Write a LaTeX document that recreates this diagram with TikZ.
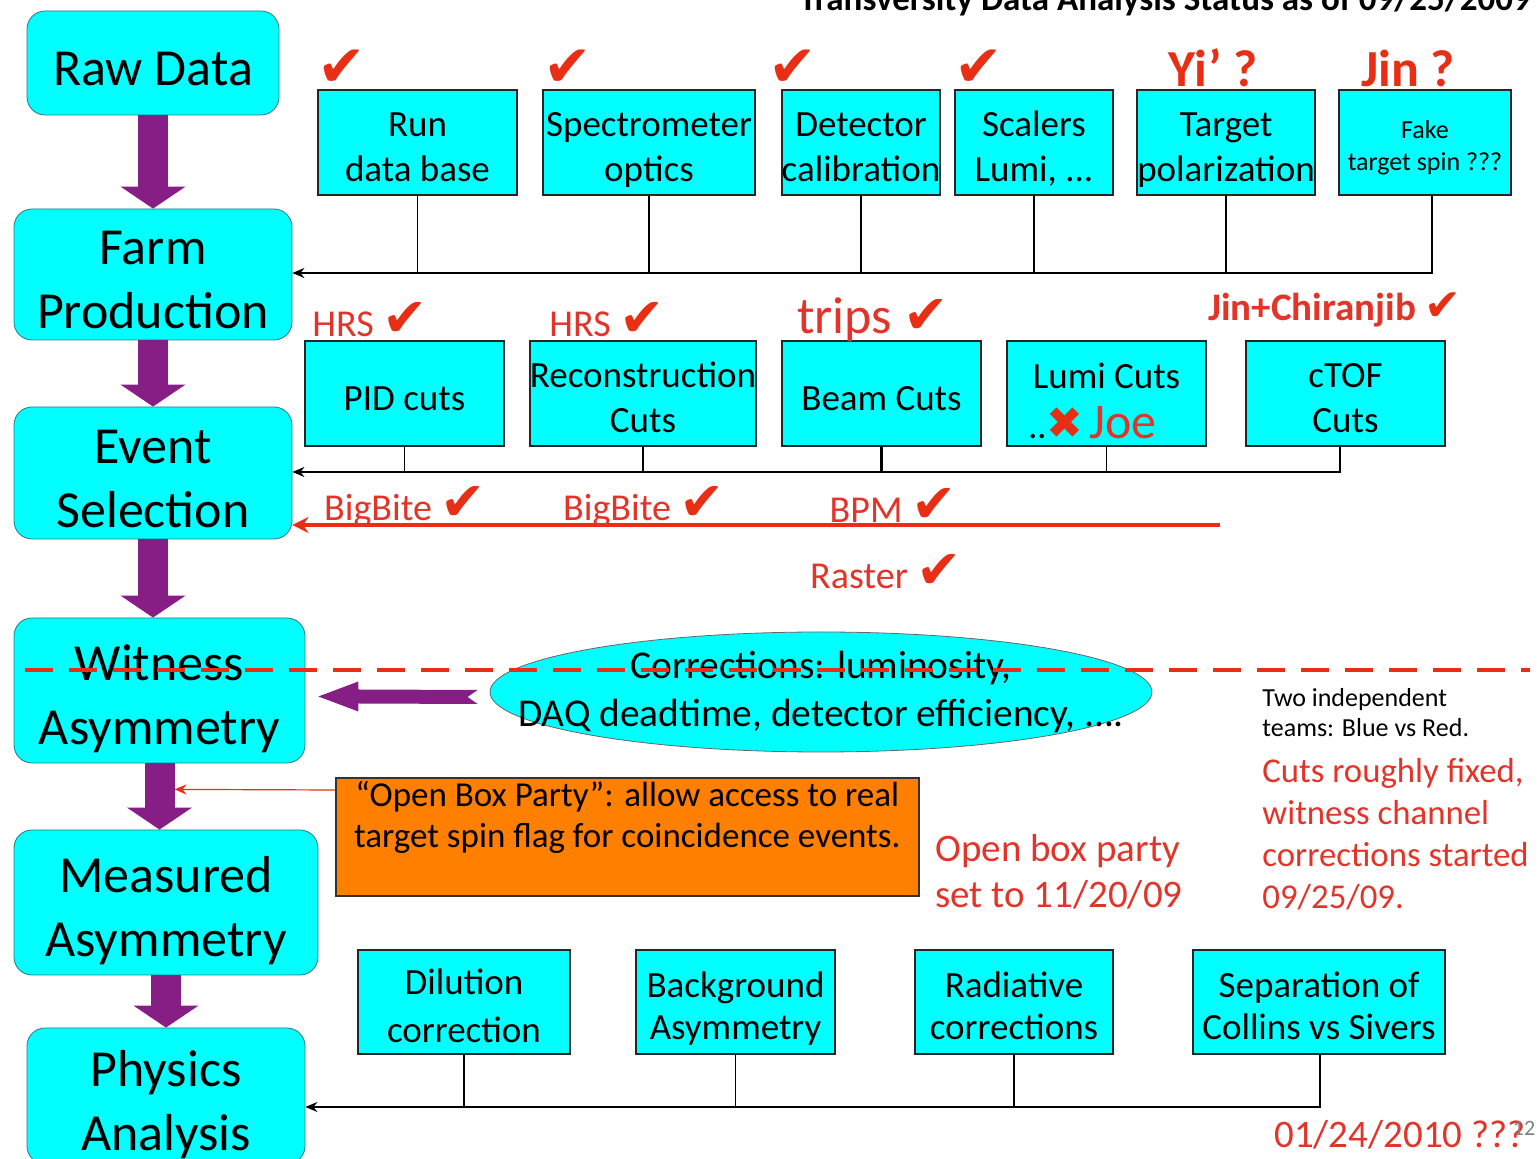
\documentclass[tikz,border=0pt]{standalone}
\usepackage{fontspec}
\setmainfont{Carlito}
\newfontfamily\symfont{DejaVu Sans}
\usetikzlibrary{arrows.meta,calc,positioning,shapes.geometric}
\definecolor{boxcyan}{RGB}{0,255,255}
\definecolor{stageline}{RGB}{40,120,130}
\definecolor{purp}{RGB}{134,30,134}
\definecolor{tickred}{RGB}{232,46,20}
\definecolor{labred}{RGB}{226,52,40}
\definecolor{boxorange}{RGB}{255,128,0}
\newcommand{\fs}[2]{\fontsize{#1}{#2}\selectfont}
\newcommand{\okmark}{{\symfont\char"2714}}
\newcommand{\nomark}{{\symfont\char"2716}}
\newcommand{\xlines}{1}
\tikzset{
  % text sits a bit low in the boxes, like on the slide
  lowtext/.style={execute at begin node={\rule{0pt}{\dimexpr\xlines\baselineskip+#1\relax}},
      execute at end node={\rule[-0.2em]{0pt}{0pt}}},
  extra lines/.code={\def\xlines{#1}},
  oneline/.style={extra lines=0},
  stage/.style={draw=stageline, fill=boxcyan, rounded corners=9pt, align=center,
      inner sep=0pt, font=\fs{26}{32}, lowtext=1.05em},
  task/.style={draw=black!85, line width=0.8pt, fill=boxcyan, align=center,
      inner sep=0pt, minimum height=52.5pt, font=\fs{18.5}{22.5}, lowtext=1.1em},
  flow/.style={draw=purp, line width=15pt, -{Triangle[width=32pt,length=11pt]}},
  feed/.style={draw=black, line width=0.75pt, -{Stealth[length=6pt,width=5pt]}},
  rung/.style={draw=black, line width=0.75pt},
  tag/.style={text=labred, font=\fs{19}{23}, inner sep=0pt},
  who/.style={text=tickred, font=\bfseries\fs{26}{30}, inner sep=0pt},
  ok/.style={text=tickred, font=\fs{29}{29}, inner sep=0pt}
}
\newcommand{\redok}[1][27]{{\color{tickred}\fs{#1}{#1}\okmark}}
\begin{document}
\begin{tikzpicture}[x=0.5pt,y=-0.5pt]
\useasboundingbox (0,0) rectangle (1539,1159);
\clip (0,0) rectangle (1539,1159);

% main chain on the left
\node[stage, oneline, minimum width=126pt, minimum height=52pt] (raw) at (153,63) {Raw Data};
\node[stage, minimum width=139pt, minimum height=65.5pt] (farm) at (153,274.5) {Farm\\Production};
\node[stage, minimum width=139pt, minimum height=66pt] (event) at (153,473) {Event\\Selection};
\node[stage, minimum width=145.5pt, minimum height=72.5pt] (wit) at (159.5,690.5) {Witness\\Asymmetry};
\node[stage, minimum width=152pt, minimum height=72.5pt] (meas) at (166,902.5) {Measured\\Asymmetry};
\node[stage, minimum width=139pt, minimum height=68pt] (phys) at (166,1096) {Physics\\Analysis};

\draw[flow] (raw.south) -- (raw.south |- farm.north);
\draw[flow] (farm.south) -- (farm.south |- event.north);
\draw[flow] (event.south) -- (event.south |- wit.north);
\draw[flow] (wit.south) -- (wit.south |- meas.north);
\draw[flow] (meas.south) -- (meas.south |- phys.north);

\node[font=\bfseries\fs{17.5}{17.5}, anchor=base] (title) at (1165,11)
  {Transversity Data Analysis Status as of 09/25/2009};

% production inputs
\node[task, minimum width=99.5pt] (run) at (417.5,142.5) {Run\\data base};
\node[task, minimum width=106pt] (spec) at (649,142.5) {Spectrometer\\optics};
\node[task, minimum width=79pt] (det) at (861,142.5) {Detector\\calibration};
\node[task, minimum width=79pt] (scal) at (1034,142.5) {Scalers\\Lumi, ...};
\node[task, minimum width=86pt] (targ) at (1226,142.5) {Target\\polarization};
\node[task, minimum width=86pt, font=\fs{13}{16}] (fake) at (1425,142.5) {Fake\\target spin ???};

\node[ok] (okrun) at (342,68) {\okmark};
\node[ok] (okspec) at (568,68) {\okmark};
\node[ok] (okdet) at (793,68) {\okmark};
\node[ok] (okscal) at (979,68) {\okmark};
\node[who] (yi) at (1213,68) {Yi’ ?};
\node[who] (jin) at (1408,68) {Jin ?};

\coordinate (bus1) at (1432,273);
\foreach \b in {run,spec,det,scal,targ}
  \draw[rung] (\b.south) -- (\b.south |- bus1);
\draw[feed] (fake.south -| bus1) -- (bus1) -- (bus1 -| farm.east);

% selection cuts
\node[task, oneline, minimum width=99.5pt] (pid) at (404.5,393.5) {PID cuts};
\node[task, minimum width=113pt] (reco) at (643,393.5) {Reconstruction\\Cuts};
\node[task, oneline, minimum width=99.5pt] (beam) at (881.5,393.5) {Beam Cuts};
\node[task, extra lines=1.25, minimum width=99.5pt] (lumi) at (1106.5,393.5)
  {Lumi Cuts\\[2.5pt]{\fs{18}{18}..}{\color{tickred}\fs{22}{22}\nomark}\,{\color{labred}\fs{25}{25}Joe}\hspace*{14pt}};
\node[task, minimum width=99.5pt] (ctof) at (1345.5,393.5) {cTOF\\Cuts};

\node[tag] (hrs1) at (370,320) {HRS \redok};
\node[tag] (hrs2) at (607,320) {HRS \redok};
\node[tag, font=\fs{26}{30}] (trips) at (873,320) {trips \redok};
\node[tag, font=\bfseries\fs{19.5}{23}] (jc) at (1335,310) {Jin+Chiranjib \redok[22]};

\coordinate (bus2) at (1340,472);
\foreach \b in {pid,reco,lumi}
  \draw[rung] (\b.south) -- (\b.south |- bus2);
\draw[rung, line width=1.3pt] (beam.south) -- (beam.south |- bus2);
\draw[feed] (ctof.south -| bus2) -- (bus2) -- (bus2 -| event.east);

% beam line feedback
\coordinate (rl) at (1220,525);
\draw[draw=tickred, line width=2pt, -{Stealth[length=8pt,width=8pt]}] (rl) -- (rl -| event.east);
\node[tag] (bb1) at (405,507) {BigBite \redok};
\node[tag] (bb2) at (644,507) {BigBite \redok};
\node[tag] (bpm) at (893,505) {BPM \redok};
\node[tag] (raster) at (886,572) {Raster \redok};

% corrections
\node[ellipse, draw=black!60, fill=boxcyan, minimum width=331pt, minimum height=60pt,
  inner sep=0pt] (corr) at (821,692) {};
\node[align=center, inner sep=0pt, font=\fs{19.7}{24}] (corrtext) at (corr.center)
  {Corrections: luminosity,\\DAQ deadtime, detector efficiency, ....};
\coordinate (wtip) at ($(wit.east)+(13,6)$);
\coordinate (wtail) at ($(corr.west)+(-12,5)$);
\fill[purp] (wtip) -- ($(wtip)+(40,-15)$) -- ($(wtip)+(40,-7)$) -- ($(wtail)+(0,-7)$)
  -- ($(wtail)+(-10,0)$) -- ($(wtail)+(0,7)$) -- ($(wtip)+(40,7)$) -- ($(wtip)+(40,15)$) -- cycle;

\node[anchor=north west, align=left, inner sep=0pt, font=\fs{13}{15}] (teams) at (1262,688)
  {Two independent\\teams: Blue vs Red.};
\node[anchor=north west, align=left, inner sep=0pt, text=labred, font=\fs{17.4}{21}] (fixed)
  at (1262,758) {Cuts roughly fixed,\\witness channel\\corrections started\\09/25/09.};

% open box
\node[draw=black!80, line width=0.8pt, fill=boxorange, minimum width=291.5pt, minimum height=59pt,
  anchor=north west, inner sep=0pt] (party) at (335,777) {};
\node[anchor=north, align=center, inner sep=0pt, font=\fs{17.5}{20.5}] (partytext)
  at ($(party.north)+(0,4)$)
  {“Open Box Party”: allow access to real\\target spin flag for coincidence events.};
\coordinate (flag) at ($(wit.south)+(15,26)$);
\draw[draw=tickred, line width=0.6pt, -{Stealth[length=6pt,width=5pt]}]
  ($(party.north west)+(0,13)$) -- (flag);
\node[anchor=north west, align=left, inner sep=0pt, text=labred, font=\fs{19.5}{23}] (obp)
  at (935,834) {Open box party\\set to 11/20/09};

% physics corrections
\node[task, minimum width=106pt, minimum height=52pt, font=\fs{18.5}{24}] (dil) at (464,1002) {Dilution\\correction};
\node[task, minimum width=99.5pt, minimum height=52pt, font=\fs{18.5}{21}] (bkg) at (735.5,1002) {Background\\Asymmetry};
\node[task, minimum width=99pt, minimum height=52pt, font=\fs{18.5}{21}] (rad) at (1014,1002) {Radiative\\corrections};
\node[task, minimum width=126pt, minimum height=52pt, font=\fs{18.5}{21}] (sep) at (1319,1002) {Separation of\\Collins vs Sivers};

\coordinate (bus3) at (1320,1107);
\foreach \b in {dil,bkg,rad}
  \draw[rung] (\b.south) -- (\b.south |- bus3);
\draw[feed] (sep.south -| bus3) -- (bus3) -- (bus3 -| phys.east);
\node[tag, font=\fs{19.5}{23}] (due) at (1400,1135) {01/24/2010 ???};
\node[text=black!50, font=\fs{11}{11}, inner sep=0pt] (page) at (1524,1128) {12};

% blinding line
\draw[draw=tickred, line width=2pt, dash pattern=on 14pt off 8pt] (25,670) -- (1530,670);
\end{tikzpicture}
\end{document}
